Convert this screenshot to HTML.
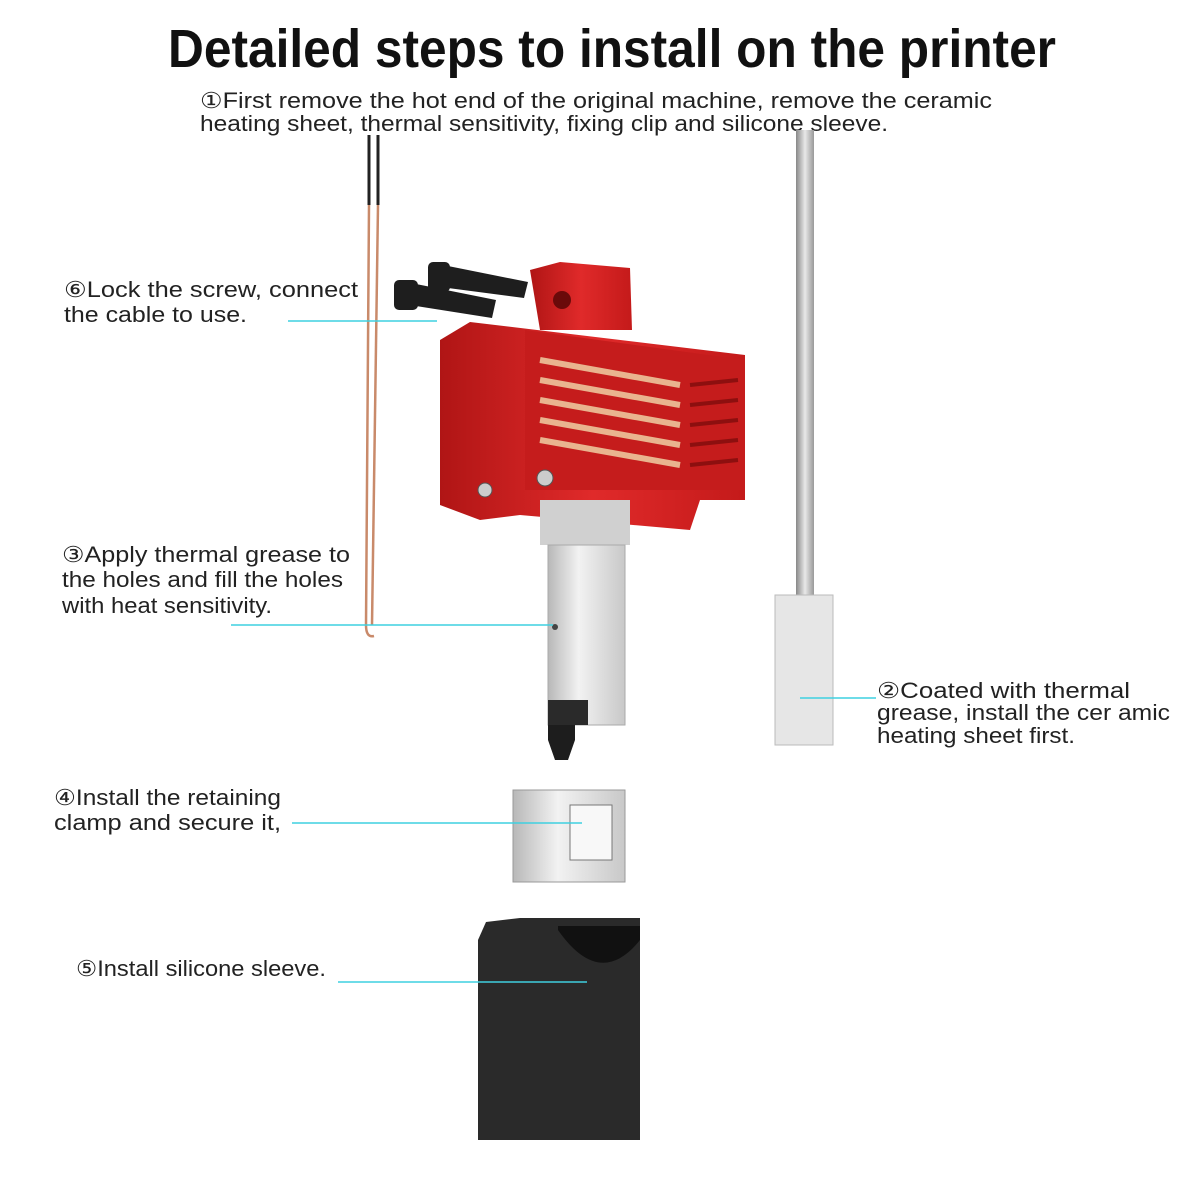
<!DOCTYPE html>
<html><head><meta charset="utf-8"><style>
html,body{margin:0;padding:0;background:#fff;}
svg{display:block;}
text{font-family:"Liberation Sans",sans-serif;fill:#222;}
</style></head><body>
<svg width="1200" height="1200" viewBox="0 0 1200 1200" xmlns="http://www.w3.org/2000/svg">
<defs>
<linearGradient id="silver" x1="0" x2="1"><stop offset="0" stop-color="#b8b8b8"/><stop offset="0.4" stop-color="#f2f2f2"/><stop offset="1" stop-color="#c8c8c8"/></linearGradient>
<linearGradient id="rod" x1="0" x2="1"><stop offset="0" stop-color="#888"/><stop offset="0.5" stop-color="#e8e8e8"/><stop offset="1" stop-color="#999"/></linearGradient>
<linearGradient id="red" x1="0" x2="1"><stop offset="0" stop-color="#b01515"/><stop offset="0.5" stop-color="#e02a2a"/><stop offset="1" stop-color="#c41a1a"/></linearGradient>
</defs>
<text x="612" y="67" text-anchor="middle" font-size="54" font-weight="bold" textLength="888" lengthAdjust="spacingAndGlyphs" style="fill:#111">Detailed steps to install on the printer</text>
<text x="200" y="108" font-size="22" textLength="792" lengthAdjust="spacingAndGlyphs">①First remove the hot end of the original machine, remove the ceramic</text>
<text x="200" y="131" font-size="22" textLength="688" lengthAdjust="spacingAndGlyphs">heating sheet, thermal sensitivity, fixing clip and silicone sleeve.</text>

<line x1="369" y1="135" x2="369" y2="205" stroke="#222" stroke-width="3"/>
<line x1="378" y1="135" x2="378" y2="205" stroke="#222" stroke-width="3"/>
<path d="M369 205 L366 625 Q366 638 374 636" fill="none" stroke="#c98a6a" stroke-width="2.5"/>
<path d="M378 205 L372 625" fill="none" stroke="#c98a6a" stroke-width="2.5"/>

<rect x="796" y="130" width="18" height="468" fill="url(#rod)"/>
<rect x="775" y="595" width="58" height="150" fill="#e6e6e6" stroke="#bbb"/>

<g fill="#1e1e1e">
<rect x="428" y="262" width="22" height="30" rx="5"/>
<polygon points="448,266 528,282 524,298 448,288"/>
<rect x="394" y="280" width="24" height="30" rx="5"/>
<polygon points="416,284 496,300 492,318 416,306"/>
</g>

<polygon points="530,270 560,262 630,268 632,330 540,330" fill="url(#red)"/>
<circle cx="562" cy="300" r="9" fill="#6a0a0a"/>
<polygon points="440,340 470,322 745,355 745,500 700,500 690,530 520,515 480,520 440,505" fill="url(#red)"/>
<polygon points="525,330 745,360 745,490 525,490" fill="#c51c1c"/>
<g stroke="#e9b48f" stroke-width="6">
<line x1="540" y1="360" x2="680" y2="385"/>
<line x1="540" y1="380" x2="680" y2="405"/>
<line x1="540" y1="400" x2="680" y2="425"/>
<line x1="540" y1="420" x2="680" y2="445"/>
<line x1="540" y1="440" x2="680" y2="465"/>
</g>
<g stroke="#8d0f0f" stroke-width="4">
<line x1="690" y1="385" x2="738" y2="380"/>
<line x1="690" y1="405" x2="738" y2="400"/>
<line x1="690" y1="425" x2="738" y2="420"/>
<line x1="690" y1="445" x2="738" y2="440"/>
<line x1="690" y1="465" x2="738" y2="460"/>
</g>
<circle cx="545" cy="478" r="8" fill="#ccc" stroke="#555"/>
<circle cx="485" cy="490" r="7" fill="#ccc" stroke="#555"/>
<rect x="540" y="500" width="90" height="45" fill="#d0d0d0"/>

<rect x="548" y="545" width="77" height="180" fill="url(#silver)" stroke="#aaa"/>
<circle cx="555" cy="627" r="3" fill="#444"/>
<polygon points="548,700 575,700 575,740 568,760 555,760 548,740" fill="#1d1d1d"/>
<rect x="548" y="700" width="40" height="25" fill="#2a2a2a"/>

<rect x="513" y="790" width="112" height="92" fill="url(#silver)" stroke="#999"/>
<rect x="570" y="805" width="42" height="55" fill="#f8f8f8" stroke="#777"/>

<path d="M486 922 L520 918 L640 918 L640 1140 L478 1140 L478 940 Z" fill="#2a2a2a"/>
<path d="M558 930 Q600 990 640 940 L640 926 L558 926 Z" fill="#111"/>

<g stroke="#3fd0e0" stroke-width="1.5">
<line x1="288" y1="321" x2="437" y2="321"/>
<line x1="231" y1="625" x2="553" y2="625"/>
<line x1="292" y1="823" x2="582" y2="823"/>
<line x1="338" y1="982" x2="587" y2="982"/>
<line x1="800" y1="698" x2="876" y2="698"/>
</g>

<g font-size="22" lengthAdjust="spacingAndGlyphs">
<text x="64" y="297" textLength="294" lengthAdjust="spacingAndGlyphs">⑥Lock the screw, connect</text>
<text x="64" y="322" textLength="183" lengthAdjust="spacingAndGlyphs">the cable to use.</text>
<text x="62" y="562" textLength="288" lengthAdjust="spacingAndGlyphs">③Apply thermal grease to</text>
<text x="62" y="587" textLength="281" lengthAdjust="spacingAndGlyphs">the holes and fill the holes</text>
<text x="62" y="613" textLength="210" lengthAdjust="spacingAndGlyphs">with heat sensitivity.</text>
<text x="54" y="805" textLength="227" lengthAdjust="spacingAndGlyphs">④Install the retaining</text>
<text x="54" y="830" textLength="227" lengthAdjust="spacingAndGlyphs">clamp and secure it,</text>
<text x="76" y="976" textLength="250" lengthAdjust="spacingAndGlyphs">⑤Install silicone sleeve.</text>
<text x="877" y="698" textLength="253" lengthAdjust="spacingAndGlyphs">②Coated with thermal</text>
<text x="877" y="720" textLength="293" lengthAdjust="spacingAndGlyphs">grease, install the cer amic</text>
<text x="877" y="743" textLength="198" lengthAdjust="spacingAndGlyphs">heating sheet first.</text>
</g>
</svg>
</body></html>
